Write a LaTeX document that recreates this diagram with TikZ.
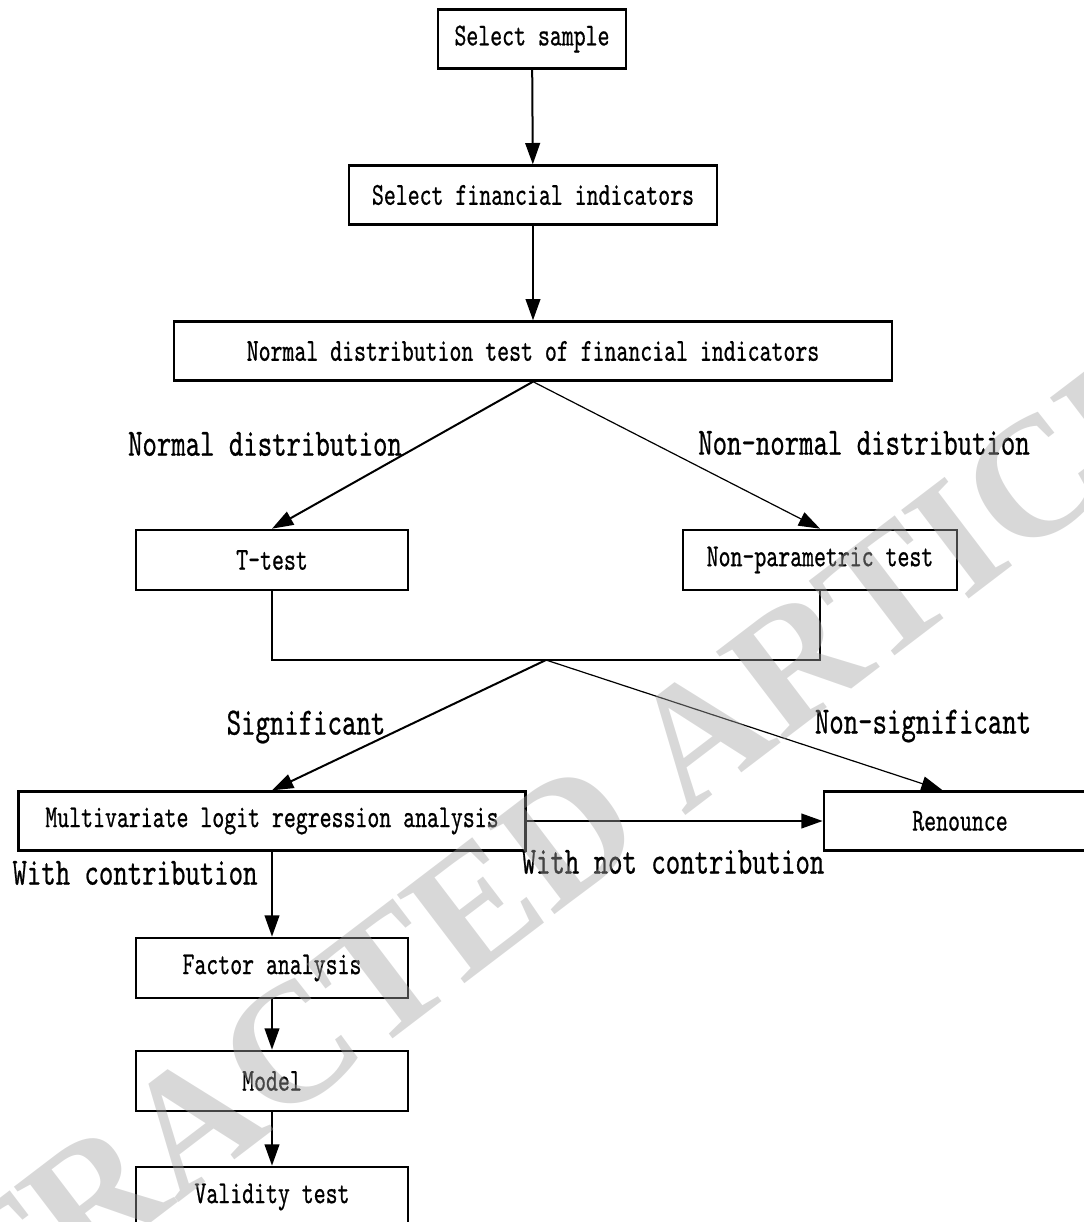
\documentclass[tikz,border=0pt]{standalone}
\usepackage{fontspec}
\newfontfamily\boxfont{lmmono10-regular.otf}[FakeStretch=0.71, FakeBold=0.6]
\newfontfamily\stampfont{Liberation Serif}
\usetikzlibrary{positioning,arrows.meta}
\definecolor{stampgray}{RGB}{163,163,163}
\tikzset{
    flowchart/.style={
        x=0.75pt, y=-0.75pt,
        % Stile per le fasi (rettangolo)
        stage/.style={draw, rectangle, line width=2pt, align=center,
                      minimum width=204pt, minimum height=44pt,
                      inner sep=0pt,
                      font=\boxfont\fontsize{24pt}{27pt}\selectfont},
        % Stile per le etichette dei rami
        branch/.style={inner sep=0pt,
                       font=\boxfont\fontsize{29pt}{32pt}\selectfont},
        % Stile per le frecce
        flow/.style={-{Triangle[length=16pt,width=11pt]}, line width=1.5pt},
        thinflow/.style={flow, line width=0.9pt},
        joint/.style={line width=2pt},
        % Timbro sovrapposto
        stamp/.style={inner sep=0pt, text=stampgray, text opacity=0.42,
                      font=\stampfont\bfseries\fontsize{127.5pt}{128pt}\selectfont}
    }
}
\begin{document}
\begin{tikzpicture}[flowchart]
    \useasboundingbox (0,0) rectangle (1083,1222);
    \node[stage, minimum width=141pt] (sample) at (532,39) {Select sample};
    \node[stage, minimum width=276pt] (indic) at (533,195) {Select financial indicators};
    \node[stage, minimum width=538.5pt] (normtest) at (533,351) {Normal distribution test of financial indicators};
    \node[stage, minimum height=45pt] (ttest) at (272,560) {T-test};
    \node[stage, minimum width=205.5pt, minimum height=45pt] (nonpar) at (820,560) {Non-parametric test};
    \node[stage, minimum width=380pt] (logit) at (272,821) {Multivariate logit regression analysis};
    \node[stage] (renounce) at (960,821) {Renounce};
    \node[stage, minimum height=45pt] (factor) at (272,968) {Factor analysis};
    \node[stage, minimum height=45pt] (model) at (272,1081) {Model};
    \node[stage, minimum height=45pt] (valid) at (272,1197) {Validity test};
    \coordinate (join) at (546,660);

    \node[branch] (normal) at (265,444) {Normal distribution};
    \node[branch] (nonnormal) at (864,443) {Non-normal distribution};
    \node[branch] (signif) at (306,727) {Significant};
    \node[branch] (nonsignif) at (923,726) {Non-significant};
    \node[branch] (contrib) at (135,873) {With contribution};
    \node[branch] (nocontrib) at (673,862) {With not contribution};

    \draw[flow] (sample) -- (indic);
    \draw[flow] (indic) -- (normtest);
    \draw[flow] (normtest.south) -- (ttest.north);
    \draw[thinflow] (normtest.south) -- (nonpar.north);
    \draw[joint] (ttest.south) |- (join) -| (nonpar.south);
    \draw[flow] (join) -- (logit.north);
    \draw[thinflow] (join) -- ([xshift=-13pt]renounce.north);
    \draw[flow] (logit) -- (renounce);
    \draw[flow] (logit) -- (factor);
    \draw[flow] (factor) -- (model);
    \draw[flow] (model) -- (valid);

    \node[stamp, rotate=37.3] (retracted) at (515,876) {RETRACTED ARTICLE};
\end{tikzpicture}
\end{document}
